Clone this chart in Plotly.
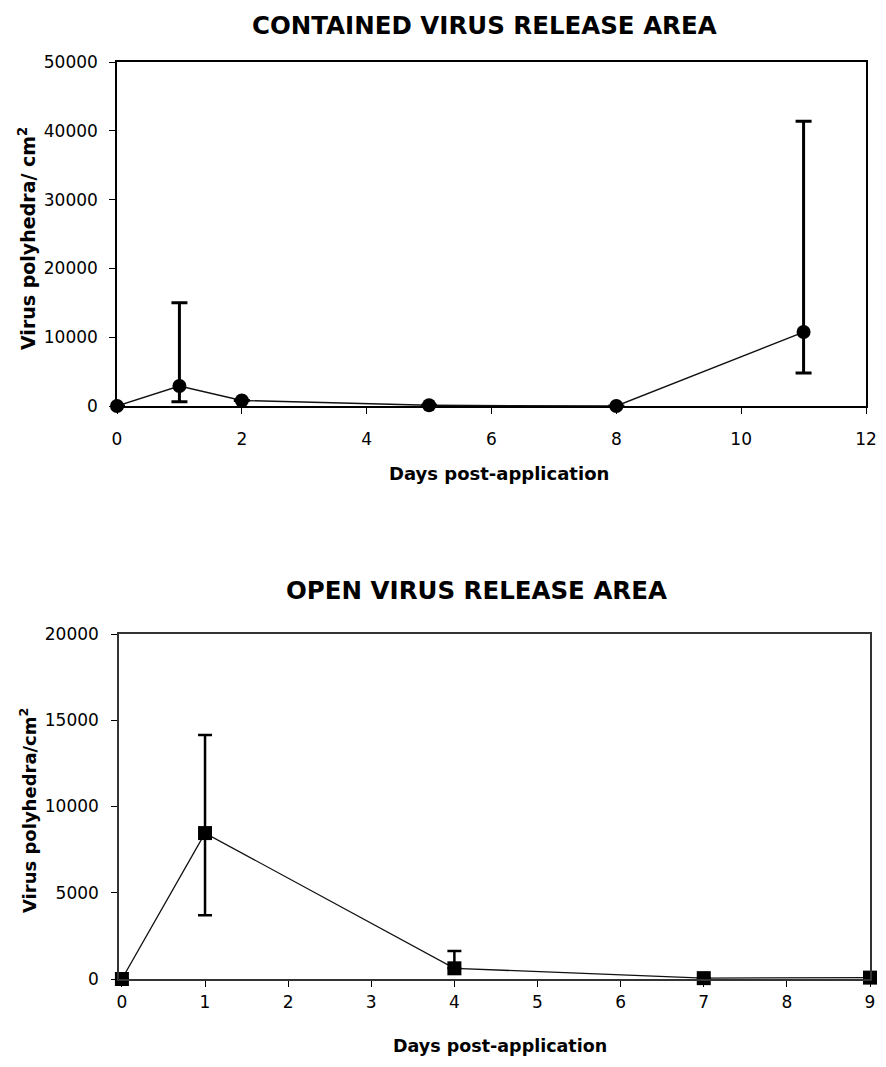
import plotly.graph_objects as go

# Top panel: contained virus release area
days_contained = [0, 1, 2, 5, 8, 11]
polyhedra_contained = [0, 2900, 800, 100, 0, 10750]
err_up_contained = [0, 12100, 0, 0, 0, 30650]
err_down_contained = [0, 2300, 0, 0, 0, 5950]

# Bottom panel: open virus release area
days_open = [0, 1, 4, 7, 9]
polyhedra_open = [0, 8460, 620, 50, 80]
err_up_open = [0, 5690, 1000, 0, 0]
err_down_open = [0, 4760, 0, 0, 0]

top_x_ticks = [0, 2, 4, 6, 8, 10, 12]
top_y_ticks = [0, 10000, 20000, 30000, 40000, 50000]
bot_x_ticks = [0, 1, 2, 3, 4, 5, 6, 7, 8, 9]
bot_y_ticks = [0, 5000, 10000, 15000, 20000]

# the page body has an 8px margin, so the figure starts at (8, 8)
OFF = 8
W, H = 886 - OFF, 1067 - 2 * OFF
FONT = "DejaVu Sans"

fig = go.Figure()

fig.add_trace(go.Scatter(
    x=days_contained, y=polyhedra_contained, mode="lines+markers",
    line=dict(color="#111111", width=1.4),
    marker=dict(symbol="circle", size=14, color="#000000"),
    error_y=dict(type="data", symmetric=False, array=err_up_contained,
                 arrayminus=err_down_contained, color="#000000",
                 thickness=3, width=8),
    cliponaxis=False, xaxis="x", yaxis="y", showlegend=False))

fig.add_trace(go.Scatter(
    x=days_open, y=polyhedra_open, mode="lines+markers",
    line=dict(color="#111111", width=1.3),
    marker=dict(symbol="square", size=14, color="#000000"),
    error_y=dict(type="data", symmetric=False, array=err_up_open,
                 arrayminus=err_down_open, color="#000000",
                 thickness=2.5, width=7),
    cliponaxis=False, xaxis="x2", yaxis="y2", showlegend=False))

def px_x(p):
    return (p - OFF) / W

def px_y(p):
    return 1 - (p - OFF) / H

axis_common = dict(showline=True, linecolor="#000000", linewidth=1.5, mirror=True,
                   showgrid=False, zeroline=False, ticks="outside", ticklen=6,
                   tickcolor="#000000", tickwidth=1.2, automargin=False,
                   ticklabeloverflow="allow",
                   tickfont=dict(family=FONT, size=17, color="#000000"))

fig.update_layout(
    template="none",
    width=W, height=H,
    margin=dict(l=0, r=0, t=0, b=0, pad=0, autoexpand=False),
    paper_bgcolor="white", plot_bgcolor="white",
    xaxis=dict(domain=[px_x(117), px_x(866)], range=[0, 12], tickvals=top_x_ticks,
               ticktext=[str(v) for v in top_x_ticks],
               anchor="y", ticklabelstandoff=11, **axis_common),
    yaxis=dict(domain=[px_y(406), px_y(62)], range=[0, 50000], tickvals=top_y_ticks,
               ticktext=[str(v) for v in top_y_ticks],
               anchor="x", ticklabelstandoff=8, **axis_common),
    xaxis2=dict(domain=[px_x(119), px_x(870)], range=[-0.035, 9.0], tickvals=bot_x_ticks,
                ticktext=[str(v) for v in bot_x_ticks],
                anchor="y2", ticklabelstandoff=1, **axis_common),
    yaxis2=dict(domain=[px_y(979), px_y(634)], range=[0, 20000], tickvals=bot_y_ticks,
                ticktext=[str(v) for v in bot_y_ticks],
                anchor="x2", ticklabelstandoff=9, **axis_common),
)
fig.update_layout(xaxis2_linecolor="#333333", yaxis2_linecolor="#333333")

annots = [
    ("<b>CONTAINED VIRUS RELEASE AREA</b>", 484, 26, 24.5, 0),
    ("<b>OPEN VIRUS RELEASE AREA</b>", 476, 590, 24.5, 0),
    ("<b>Days post-application</b>", 499, 474, 18, 0),
    ("<b>Days post-application</b>", 500, 1046, 17.5, 0),
    ("<b>Virus polyhedra/ cm<sup>2</sup></b>", 27, 239, 19, -90),
    ("<b>Virus polyhedra/cm<sup>2</sup></b>", 28, 811, 18, -90),
]
for text, x, y, size, ang in annots:
    fig.add_annotation(text=text, x=px_x(x), y=px_y(y), xref="paper", yref="paper",
                       xanchor="center", yanchor="middle", showarrow=False,
                       textangle=ang, font=dict(family=FONT, size=size, color="#000000"))

fig.write_html("out.html")
